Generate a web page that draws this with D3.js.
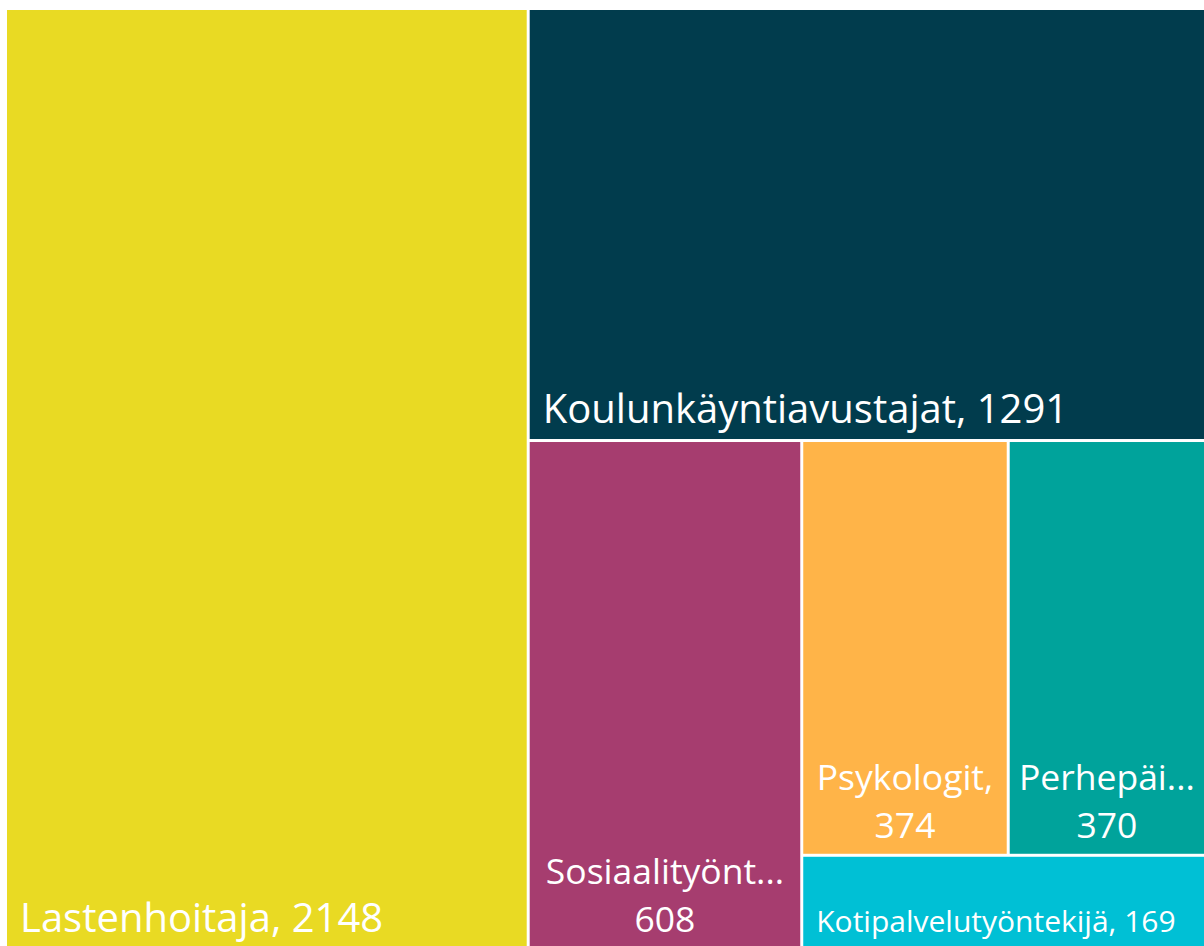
<!DOCTYPE html>
<html>
<head>
<meta charset="utf-8">
<script src="https://cdn.jsdelivr.net/npm/d3@7"></script>
<style>
  html, body { margin: 0; padding: 0; background: #fff; }
  svg { display: block; font-family: "Segoe UI", "Open Sans", sans-serif; }
</style>
</head>
<body>
<div id="plot"></div>
<script>
// treemap data
const categories = ["Lastenhoitaja", "Koulunkäyntiavustajat", "Sosiaalityöntekijät",
                    "Psykologit", "Perhepäivähoitajat", "Kotipalvelutyöntekijä"];
const values = [2148, 1291, 608, 374, 370, 169];
const colors = ["#E9DA23", "#013C4D", "#A63D6F", "#FFB448", "#00A39B", "#00C0D5"];

const width = 1204, height = 946;
const marginLeft = 7, marginTop = 10, innerW = 1204, innerH = 938;

const svg = d3.select("#plot").append("svg")
    .attr("width", width)
    .attr("height", height);

const root = d3.hierarchy({ children: categories.map((c, i) => ({ name: c, value: values[i], color: colors[i] })) })
    .sum(d => d.value || 0)
    .sort((a, b) => b.value - a.value);

d3.treemap()
    .size([innerW, innerH])
    .paddingInner(3)
    .tile(d3.treemapSquarify.ratio(1.06))(root);

const g = svg.append("g").attr("transform", `translate(${marginLeft},${marginTop})`);

const cells = g.selectAll("g.cell")
    .data(root.leaves())
    .enter().append("g")
    .attr("class", "cell");

cells.append("rect")
    .attr("x", d => d.x0)
    .attr("y", d => d.y0)
    .attr("width", d => d.x1 - d.x0)
    .attr("height", d => d.y1 - d.y0)
    .attr("fill", d => d.data.color);

// measure helper
const measure = svg.append("text").attr("visibility", "hidden");
const textWidth = (s, size) => {
    measure.style("font-size", size + "px").text(s);
    return measure.node().getComputedTextLength();
};

const bigFont = 40, midFont = 35.5, smallFont = 30, pad = 13;

cells.each(function (d) {
    const cell = d3.select(this);
    const w = d.x1 - d.x0, h = d.y1 - d.y0;
    const full = `${d.data.name}, ${d.data.value}`;

    if (textWidth(full, bigFont) + 2 * pad <= w) {
        cell.append("text")
            .attr("x", d.x0 + pad)
            .attr("y", d.y1 - 16)
            .attr("fill", "#fff")
            .style("font-size", bigFont + "px")
            .text(full);
    } else if (h > 150) {
        // two lines, centred, name truncated
        let line1 = d.data.name + ",";
        const maxW = w - 20;
        if (textWidth(line1, midFont) > maxW) {
            let s = d.data.name;
            while (s.length > 1 && textWidth(s + "...", midFont) > maxW) s = s.slice(0, -1);
            line1 = s + "...";
        }
        const cx = (d.x0 + Math.min(d.x1, width - marginLeft)) / 2;
        cell.append("text")
            .attr("x", cx)
            .attr("y", d.y1 - 64)
            .attr("text-anchor", "middle")
            .attr("fill", "#fff")
            .style("font-size", midFont + "px")
            .text(line1);
        cell.append("text")
            .attr("x", cx)
            .attr("y", d.y1 - 16)
            .attr("text-anchor", "middle")
            .attr("fill", "#fff")
            .style("font-size", midFont + "px")
            .text(d.data.value);
    } else {
        cell.append("text")
            .attr("x", d.x0 + pad)
            .attr("y", d.y1 - 16)
            .attr("fill", "#fff")
            .style("font-size", smallFont + "px")
            .text(full);
    }
});

measure.remove();
</script>
</body>
</html>
